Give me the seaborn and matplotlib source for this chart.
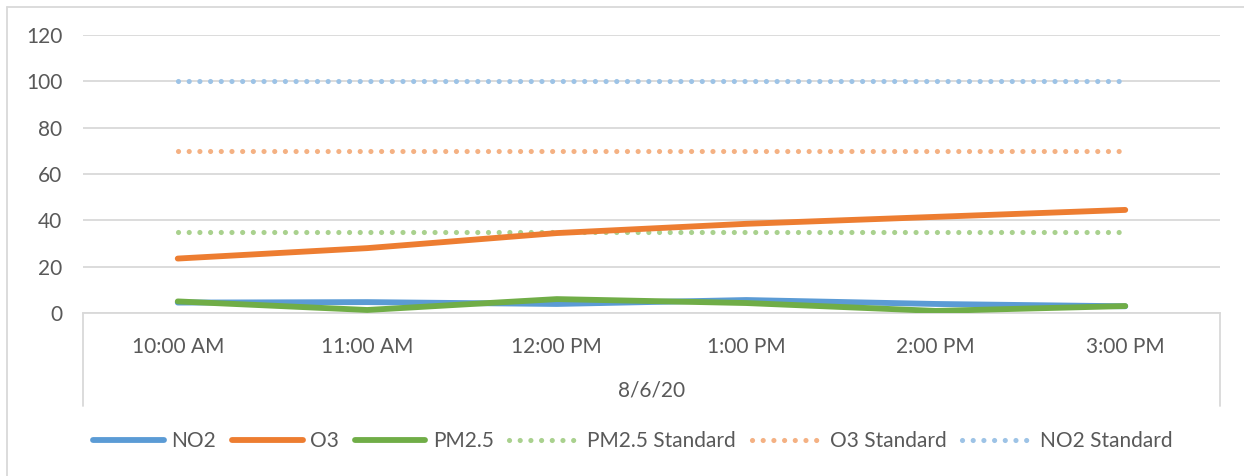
import numpy as np
import pandas as pd
import matplotlib.pyplot as plt
from matplotlib.lines import Line2D
import seaborn as sns

# data
times = ['10:00 AM', '11:00 AM', '12:00 PM', '1:00 PM', '2:00 PM', '3:00 PM']
no2 = [4.5, 4.7, 3.9, 5.6, 3.9, 2.9]
o3 = [23.5, 28.0, 34.5, 38.5, 41.5, 44.5]
pm25 = [5.0, 1.3, 6.0, 4.3, 0.9, 3.0]
pm25_std = [35, 35, 35, 35, 35, 35]
o3_std = [70, 70, 70, 70, 70, 70]
no2_std = [100, 100, 100, 100, 100, 100]
date_label = '8/6/20'
y_ticks = [0, 20, 40, 60, 80, 100, 120]

TXT = '#595959'
GRID = '#d9d9d9'
FS = 15

series = [
    ('NO2', no2, '#5B9BD5', 'solid'),
    ('O3', o3, '#ED7D31', 'solid'),
    ('PM2.5', pm25, '#70AD47', 'solid'),
    ('PM2.5 Standard', pm25_std, '#A9D18E', 'dot'),
    ('O3 Standard', o3_std, '#F4B183', 'dot'),
    ('NO2 Standard', no2_std, '#9DC3E6', 'dot'),
]

sns.set_theme(style='white')
plt.rcParams['font.family'] = ['Lato', 'DejaVu Sans']

fig = plt.figure(figsize=(12.44, 4.76), dpi=100)
ax = fig.add_axes([83 / 1244, 1 - 313 / 476, (1220 - 83) / 1244, 278 / 476])

for name, vals, col, kind in series:
    df = pd.DataFrame({'time': times, 'value': vals})
    if kind == 'solid':
        sns.lineplot(data=df, x='time', y='value', ax=ax, color=col, lw=4.2,
                     solid_capstyle='round', label=name, zorder=3)
    else:
        sns.lineplot(data=df, x='time', y='value', ax=ax, color=col, lw=3.7,
                     linestyle=(0, (0.01, 2.07)), dash_capstyle='round',
                     label=name, zorder=2)

ax.set_xlim(-0.5, len(times) - 0.5)
ax.set_ylim(0, 120)
ax.set_yticks(y_ticks)
ax.grid(axis='y', color=GRID, lw=1.3)
ax.grid(axis='x', visible=False)
for s in ['left', 'right', 'top']:
    ax.spines[s].set_visible(False)
ax.spines['bottom'].set_color(GRID)
ax.spines['bottom'].set_linewidth(1.3)
ax.tick_params(axis='both', length=0, labelsize=FS, labelcolor=TXT)
ax.tick_params(axis='x', pad=17)
ax.tick_params(axis='y', pad=15)
ax.set_xlabel('')
ax.set_ylabel('')

# multi-level category box below the axis
for xx in (0, 1):
    ax.plot([xx, xx], [0, -0.335], transform=ax.transAxes, color=GRID,
            lw=1.3, clip_on=False)
ax.text(0.5, -0.28, date_label, transform=ax.transAxes, ha='center',
        va='center', fontsize=FS, color=TXT)

handles, labels = ax.get_legend_handles_labels()
ax.legend_.remove()
leg = fig.legend(handles, labels, loc='center', bbox_to_anchor=(0.509, 0.073),
                 ncol=6, frameon=False, fontsize=FS, handlelength=3.4,
                 handletextpad=0.35, columnspacing=0.75, labelcolor=TXT)

# chart area border (left and top edges visible)
fig.add_artist(Line2D([7 / 1244, 7 / 1244], [0, 1 - 7 / 476], color=GRID, lw=1.3))
fig.add_artist(Line2D([7 / 1244, 1], [1 - 7 / 476, 1 - 7 / 476], color=GRID, lw=1.3))

fig.savefig('out.png', dpi=100)
